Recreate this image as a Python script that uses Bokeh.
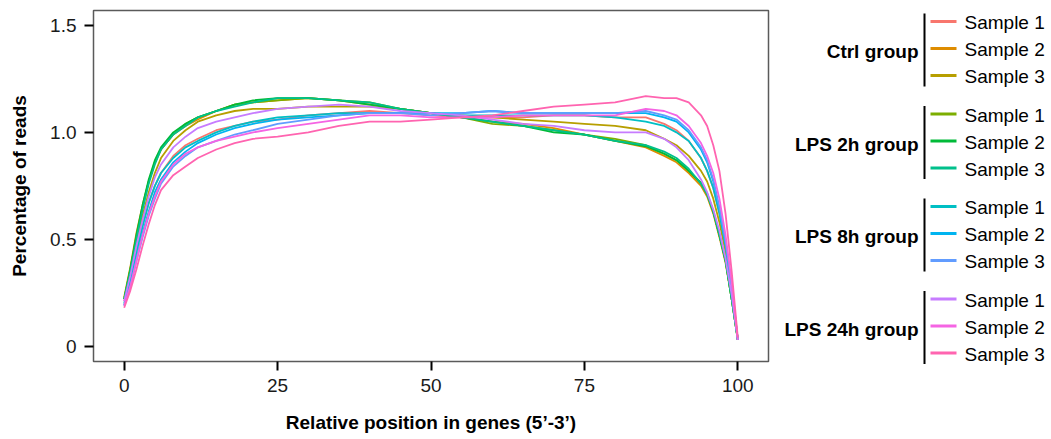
from bokeh.plotting import figure
from bokeh.models import Range1d, FixedTicker
from bokeh.layouts import row
from bokeh.core.properties import value
from bokeh.embed import file_html
from bokeh.resources import INLINE

# ---------------- data ----------------
position = [0, 1, 2, 3, 4, 5, 6, 8, 10, 12, 15, 18, 21, 25, 30, 35, 40, 45, 50, 55,
            60, 65, 70, 75, 80, 85, 88, 90, 92, 94, 95, 96, 97, 98, 99, 100]

ctrl_s1 = [0.21, 0.32, 0.45, 0.57, 0.67, 0.75, 0.81, 0.89, 0.94, 0.97, 1.01, 1.03, 1.05, 1.06, 1.08, 1.09, 1.10, 1.09, 1.08, 1.07,
           1.07, 1.07, 1.08, 1.08, 1.07, 1.07, 1.04, 1.01, 0.96, 0.88, 0.82, 0.74, 0.62, 0.47, 0.27, 0.03]
ctrl_s2 = [0.23, 0.37, 0.53, 0.66, 0.77, 0.86, 0.92, 0.99, 1.03, 1.06, 1.10, 1.13, 1.14, 1.15, 1.16, 1.15, 1.13, 1.11, 1.09, 1.07,
           1.05, 1.04, 1.02, 0.99, 0.96, 0.93, 0.89, 0.86, 0.81, 0.75, 0.70, 0.62, 0.51, 0.39, 0.22, 0.03]
ctrl_s3 = [0.22, 0.34, 0.48, 0.61, 0.72, 0.81, 0.88, 0.96, 1.01, 1.05, 1.08, 1.10, 1.11, 1.11, 1.12, 1.12, 1.12, 1.11, 1.09, 1.08,
           1.07, 1.06, 1.05, 1.04, 1.03, 1.01, 0.97, 0.94, 0.89, 0.82, 0.77, 0.69, 0.58, 0.44, 0.25, 0.03]
lps2_s1 = [0.22, 0.36, 0.51, 0.65, 0.77, 0.86, 0.92, 0.99, 1.04, 1.07, 1.10, 1.13, 1.14, 1.15, 1.16, 1.15, 1.14, 1.11, 1.09, 1.07,
           1.04, 1.03, 1.01, 0.99, 0.97, 0.94, 0.90, 0.87, 0.82, 0.76, 0.71, 0.63, 0.52, 0.40, 0.22, 0.03]
lps2_s2 = [0.22, 0.36, 0.52, 0.66, 0.78, 0.87, 0.93, 1.00, 1.04, 1.07, 1.10, 1.13, 1.15, 1.16, 1.16, 1.15, 1.13, 1.11, 1.09, 1.07,
           1.05, 1.03, 1.00, 0.99, 0.96, 0.935, 0.90, 0.87, 0.82, 0.765, 0.715, 0.63, 0.52, 0.40, 0.22, 0.03]
lps2_s3 = [0.22, 0.35, 0.50, 0.64, 0.76, 0.85, 0.92, 0.99, 1.03, 1.07, 1.10, 1.12, 1.14, 1.16, 1.16, 1.15, 1.14, 1.11, 1.09, 1.07,
           1.05, 1.03, 1.01, 0.99, 0.96, 0.94, 0.91, 0.88, 0.83, 0.76, 0.71, 0.63, 0.52, 0.40, 0.22, 0.03]
lps8_s1 = [0.20, 0.31, 0.44, 0.56, 0.67, 0.75, 0.81, 0.88, 0.93, 0.96, 1.00, 1.03, 1.05, 1.07, 1.08, 1.09, 1.09, 1.09, 1.09, 1.08,
           1.08, 1.08, 1.08, 1.08, 1.07, 1.05, 1.03, 1.00, 0.96, 0.88, 0.82, 0.74, 0.62, 0.47, 0.27, 0.03]
lps8_s2 = [0.19, 0.29, 0.41, 0.53, 0.63, 0.72, 0.78, 0.86, 0.91, 0.95, 0.99, 1.02, 1.04, 1.06, 1.07, 1.08, 1.09, 1.09, 1.09, 1.09,
           1.10, 1.09, 1.09, 1.09, 1.09, 1.09, 1.07, 1.05, 1.00, 0.92, 0.86, 0.77, 0.64, 0.48, 0.28, 0.03]
lps8_s3 = [0.19, 0.28, 0.40, 0.51, 0.61, 0.69, 0.76, 0.84, 0.89, 0.93, 0.96, 0.99, 1.01, 1.04, 1.06, 1.08, 1.09, 1.09, 1.08, 1.09,
           1.10, 1.09, 1.09, 1.09, 1.09, 1.10, 1.08, 1.06, 1.01, 0.93, 0.87, 0.78, 0.65, 0.49, 0.28, 0.03]
lps24_s1 = [0.21, 0.33, 0.47, 0.59, 0.70, 0.79, 0.85, 0.93, 0.98, 1.02, 1.05, 1.07, 1.09, 1.11, 1.12, 1.13, 1.12, 1.10, 1.09, 1.08,
            1.06, 1.04, 1.03, 1.01, 1.00, 1.00, 0.97, 0.93, 0.87, 0.78, 0.72, 0.64, 0.54, 0.41, 0.24, 0.03]
lps24_s2 = [0.19, 0.28, 0.40, 0.52, 0.62, 0.70, 0.77, 0.85, 0.90, 0.93, 0.96, 0.98, 1.00, 1.02, 1.04, 1.06, 1.08, 1.08, 1.07, 1.07,
            1.07, 1.08, 1.08, 1.08, 1.08, 1.11, 1.10, 1.08, 1.03, 0.95, 0.89, 0.81, 0.69, 0.52, 0.30, 0.03]
lps24_s3 = [0.18, 0.26, 0.36, 0.47, 0.57, 0.66, 0.73, 0.80, 0.84, 0.88, 0.92, 0.95, 0.97, 0.98, 1.00, 1.03, 1.05, 1.05, 1.06, 1.07,
            1.08, 1.10, 1.12, 1.13, 1.14, 1.17, 1.16, 1.16, 1.14, 1.08, 1.03, 0.94, 0.82, 0.62, 0.35, 0.04]

groups = ["Ctrl group", "LPS 2h group", "LPS 8h group", "LPS 24h group"]
samples = ["Sample 1", "Sample 2", "Sample 3"]
series = [ctrl_s1, ctrl_s2, ctrl_s3, lps2_s1, lps2_s2, lps2_s3,
          lps8_s1, lps8_s2, lps8_s3, lps24_s1, lps24_s2, lps24_s3]
colors = ["#F8766D", "#DE8C00", "#B79F00", "#7CAE00", "#00BA38", "#00C08B",
          "#00BFC4", "#00B4F0", "#619CFF", "#C77CFF", "#F564E3", "#FF64B0"]

x_ticks = [0, 25, 50, 75, 100]
y_ticks = [0, 0.5, 1.0, 1.5]
y_tick_labels = ["0", "0.5", "1.0", "1.5"]

FONT = "Liberation Sans"
H = 439
TOP, BOTTOM = 10, 78

# ---------------- main plot ----------------
p = figure(width=778, height=H, output_backend="svg", toolbar_location=None,
           x_range=Range1d(-5, 105), y_range=Range1d(-0.0715, 1.570),
           min_border_left=93, min_border_right=10, min_border_top=TOP, min_border_bottom=BOTTOM)
p.background_fill_color = "white"
p.border_fill_color = "white"
p.outline_line_color = "#5a5a5a"
p.outline_line_width = 1.5
p.xgrid.visible = False
p.ygrid.visible = False

for ys, c in zip(series, colors):
    p.line(position, ys, line_color=c, line_width=1.8)

for ax in (p.xaxis[0], p.yaxis[0]):
    ax.axis_line_color = None
    ax.major_tick_line_color = "black"
    ax.major_tick_line_width = 2
    ax.major_tick_out = 9
    ax.major_tick_in = 0
    ax.minor_tick_line_color = None
    ax.major_label_text_font = FONT
    ax.major_label_text_font_size = "19px"
    ax.major_label_text_color = "#1a1a1a"
    ax.axis_label_text_font = FONT
    ax.axis_label_text_font_style = "bold"
    ax.axis_label_text_font_size = "19px"
    ax.axis_label_text_color = "black"

p.xaxis.ticker = FixedTicker(ticks=x_ticks)
p.yaxis.ticker = FixedTicker(ticks=y_ticks)
p.yaxis.major_label_overrides = {t: l for t, l in zip(y_ticks, y_tick_labels)}
p.xaxis.axis_label = "Relative position in genes (5\u2019-3\u2019)"
p.yaxis.axis_label = "Percentage of reads"
p.xaxis.major_label_standoff = 8
p.yaxis.major_label_standoff = 8
p.xaxis.axis_label_standoff = 17
p.yaxis.axis_label_standoff = 17

# ---------------- grouped legend ----------------
LX0, LX1 = 778, 1051
leg = figure(width=LX1 - LX0, height=H, output_backend="svg", toolbar_location=None,
             x_range=Range1d(LX0, LX1), y_range=Range1d(H, 0),
             min_border_left=0, min_border_right=0,
             min_border_top=0, min_border_bottom=0)
leg.frame_align = False
leg.axis.visible = False
leg.xgrid.visible = False
leg.ygrid.visible = False
leg.outline_line_color = None
leg.background_fill_color = "white"
leg.border_fill_color = "white"

group_top = 21.0
group_step = 92.5
row_step = 27.0
bar_x = 924
key_x0, key_x1 = 930, 956
text_x = 964
label_x = 918

for gi, g in enumerate(groups):
    y0 = group_top + gi * group_step
    ys = [y0 + k * row_step for k in range(3)]
    leg.segment(x0=[bar_x], y0=[ys[0] - 8], x1=[bar_x], y1=[ys[2] + 11],
                line_color="black", line_width=2)
    leg.text(x=[label_x], y=[ys[1] + 3], text=[g], text_font=value(FONT),
             text_font_style="bold", text_font_size="19px", text_align="right",
             text_baseline="middle", text_color="black")
    for k in range(3):
        c = colors[gi * 3 + k]
        leg.segment(x0=[key_x0], y0=[ys[k]], x1=[key_x1], y1=[ys[k]],
                    line_color=c, line_width=3)
        leg.text(x=[text_x], y=[ys[k] + 1], text=[samples[k]], text_font=value(FONT),
                 text_font_size="19px", text_align="left", text_baseline="middle",
                 text_color="black")

layout = row(p, leg, spacing=0)
open("out.html", "w").write(file_html(layout, INLINE))
